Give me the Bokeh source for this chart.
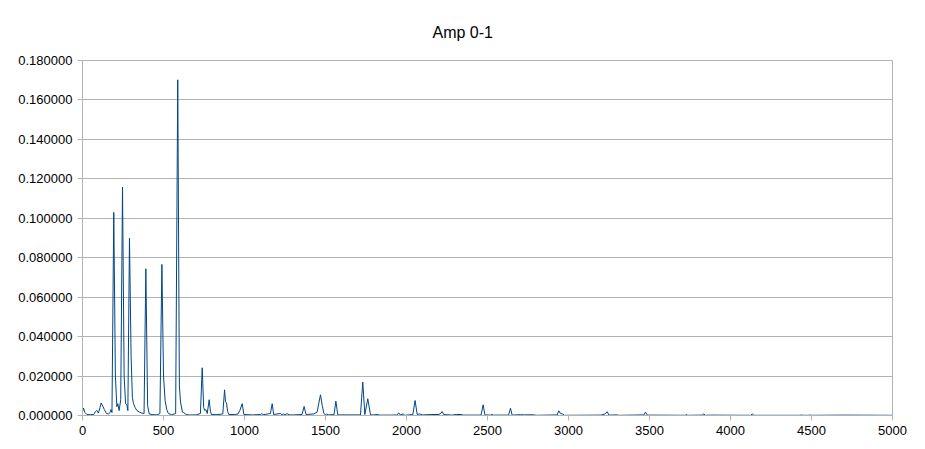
from bokeh.plotting import figure
from bokeh.models import PrintfTickFormatter, FixedTicker, Range1d, ColumnDataSource
from bokeh.embed import file_html
from bokeh.resources import INLINE

title_text = "Amp 0-1"
x_ticks = [0, 500, 1000, 1500, 2000, 2500, 3000, 3500, 4000, 4500, 5000]
y_ticks = [0.0, 0.02, 0.04, 0.06, 0.08, 0.10, 0.12, 0.14, 0.16, 0.18]

freq_hz = [
    0, 6, 15, 27, 50, 70, 80, 88, 98, 108, 115, 125, 135, 148, 160, 170, 176, 182,
    193, 203, 212, 218, 226, 236, 247, 257, 266, 274, 280, 290, 300, 308, 315, 325,
    336, 350, 366, 380, 391, 402, 412, 430, 460, 478, 490, 500, 510, 520, 530, 550,
    575, 588, 598, 605, 617, 625, 640, 660, 700, 728, 739, 748, 755, 762, 770, 782,
    790, 796, 830, 866, 877, 883, 889, 896, 903, 940, 960, 971, 986, 996, 1050, 1100,
    1107, 1115, 1160, 1171, 1180, 1222, 1232, 1241, 1250, 1263, 1275, 1300, 1355,
    1368, 1380, 1428, 1448, 1469, 1480, 1490, 1500, 1506, 1520, 1553, 1564, 1576,
    1650, 1716, 1730, 1743, 1761, 1778, 1800, 1819, 1835, 1900, 1940, 1953, 1962,
    1979, 1990, 2039, 2053, 2066, 2082, 2100, 2150, 2200, 2213, 2220, 2230, 2280,
    2307, 2340, 2350, 2460, 2473, 2484, 2520, 2527, 2535, 2630, 2642, 2652, 2704,
    2730, 2760, 2790, 2800, 2930, 2940, 2950, 2963, 2975, 3200, 3225, 3239, 3250,
    3300, 3310, 3465, 3475, 3487, 3520, 3720, 3728, 3736, 3825, 3835, 3845, 3875,
    4125, 4134, 4145, 4430, 4436, 4445, 4485, 4490, 4498, 4707, 5000,
]
amplitude = [
    0.0020, 0.0038, 0.0015, 0.0005, 0.0004, 0.0006, 0.0020, 0.0026, 0.0012, 0.0040,
    0.0063, 0.0048, 0.0030, 0.0010, 0.0008, 0.0015, 0.0030, 0.0015,
    0.1030, 0.0200, 0.0045, 0.0060, 0.0025, 0.0080, 0.1158, 0.0200, 0.0060, 0.0055,
    0.0025, 0.0899, 0.0300, 0.0090, 0.0060, 0.0040,
    0.0025, 0.0018, 0.0012, 0.0010, 0.0744, 0.0050, 0.0008, 0.0005, 0.0003, 0.0010,
    0.0766, 0.0200, 0.0076, 0.0030, 0.0010, 0.0004,
    0.0010, 0.1702, 0.0150, 0.0068, 0.0017, 0.0014, 0.0005, 0.0003, 0.0003, 0.0010,
    0.0242, 0.0040, 0.0025, 0.0030, 0.0010, 0.0080,
    0.0020, 0.0005, 0.0004, 0.0008, 0.0130, 0.0070, 0.0063, 0.0020, 0.0005, 0.0005,
    0.0008, 0.0025, 0.0060, 0.0005, 0.0003, 0.0005,
    0.0010, 0.0004, 0.0010, 0.0060, 0.0005, 0.0010, 0.0003, 0.0008, 0.0003, 0.0010,
    0.0003, 0.0003, 0.0005,
    0.0046, 0.0005, 0.0008, 0.0017, 0.0105, 0.0050, 0.0010, 0.0003, 0.0008, 0.0003,
    0.0005, 0.0073, 0.0003,
    0.0003, 0.0003, 0.0169, 0.0005, 0.0085, 0.0003, 0.0003, 0.0005, 0.0002, 0.0002,
    0.0003, 0.0013, 0.0003,
    0.0008, 0.0001, 0.0005, 0.0076, 0.0005, 0.0008, 0.0003, 0.0005, 0.0005, 0.0012,
    0.0020, 0.0005, 0.0002,
    0.0005, 0.0005, 0.0002, 0.0002, 0.0054, 0.0003, 0.0002, 0.0006, 0.0002, 0.0002,
    0.0037, 0.0002, 0.0004,
    0.0003, 0.0004, 0.0003, 0.0001, 0.0003, 0.0024, 0.0010, 0.0008, 0.0001, 0.0002,
    0.0008, 0.0019, 0.0002,
    0.0003, 0.0001, 0.0003, 0.0017, 0.0002, 0.0002, 0.0001, 0.0005, 0.0001, 0.0002,
    0.0008, 0.0001, 0.0002,
    0.0001, 0.0008, 0.0001, 0.0001, 0.0003, 0.0001, 0.0001, 0.0003, 0.0001, 0.0002,
    0.0001,
]

src = ColumnDataSource(data=dict(freq=freq_hz, amp=amplitude))

grid_col = "#b3b3b3"
p = figure(width=917, height=441, output_backend="svg", toolbar_location=None,
           x_range=Range1d(0, 5000), y_range=Range1d(0, 0.18),
           min_border_left=82, min_border_right=25, min_border_top=60,
           min_border_bottom=26)
p.title.text = title_text
p.title.align = "left"
p.title.offset = 350
p.title.text_font = "Liberation Sans"
p.title.text_font_size = "16px"
p.title.text_font_style = "normal"
p.title.text_color = "#000000"
p.title.standoff = 40

p.line("freq", "amp", source=src, line_color="#004586", line_width=1)

p.xaxis.ticker = FixedTicker(ticks=x_ticks)
p.yaxis.ticker = FixedTicker(ticks=y_ticks)
p.yaxis.formatter = PrintfTickFormatter(format="%.6f")
for ax in (p.xaxis, p.yaxis):
    ax.axis_line_color = grid_col
    ax.major_tick_line_color = grid_col
    ax.major_tick_in = 0
    ax.major_tick_out = 5
    ax.minor_tick_line_color = None
    ax.major_label_text_font = "Liberation Sans"
    ax.major_label_text_font_size = "13px"
    ax.major_label_text_color = "#000000"
    ax.major_label_standoff = 5
p.xgrid.grid_line_color = None
p.ygrid.grid_line_color = grid_col
p.ygrid.grid_line_width = 1
p.outline_line_color = grid_col
p.outline_line_alpha = 1.0
p.background_fill_color = "white"
p.border_fill_color = "white"

open("out.html", "w").write(file_html(p, INLINE))
